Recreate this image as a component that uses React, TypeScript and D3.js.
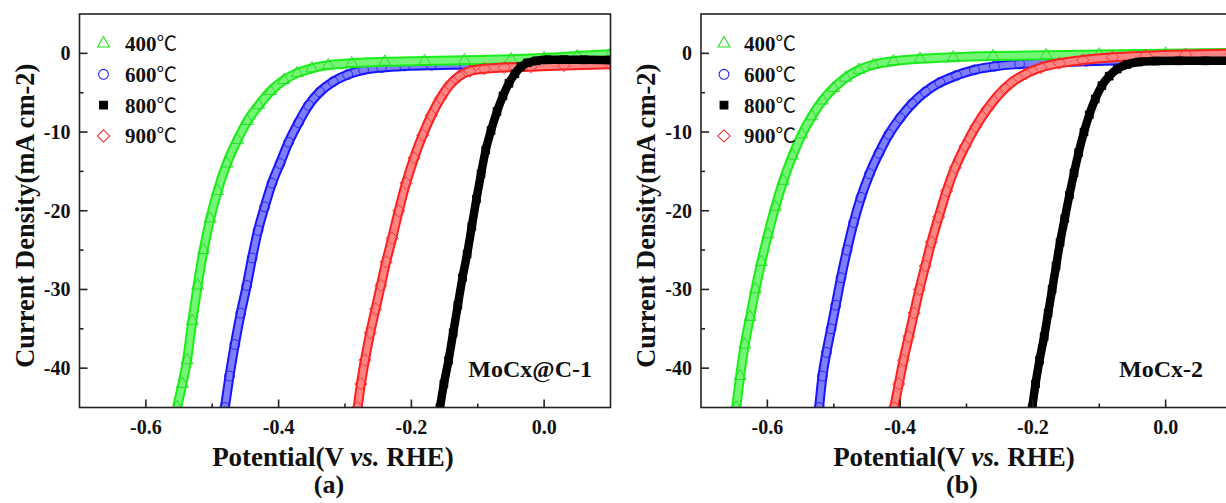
import React from 'react';
import * as d3 from 'd3';

// ---------- data (potential V vs RHE, current density mA cm-2) ----------
const seriesLabels = ['400℃', '600℃', '800℃', '900℃'];
const xTicks = [-0.6, -0.4, -0.2, 0.0];
const xMinorTicks = [-0.5, -0.3, -0.1];
const yTicks = [0, -10, -20, -30, -40];
const yMinorTicks = [-5, -15, -25, -35];
const panelNames = ['MoCx@C-1', 'MoCx-2'];
const panelCaptions = ['(a)', '(b)'];

// panel (a) MoCx@C-1
const a400: [number, number][] = [
  [-0.553, -45], [-0.545, -42], [-0.538, -39], [-0.53, -34], [-0.522, -29.5], [-0.513, -25],
  [-0.503, -21], [-0.492, -17.5], [-0.478, -14], [-0.462, -11], [-0.447, -8.6], [-0.43, -6.6],
  [-0.412, -4.8], [-0.392, -3.4], [-0.372, -2.5], [-0.35, -1.9], [-0.325, -1.5], [-0.29, -1.25],
  [-0.24, -1.08], [-0.18, -0.98], [-0.12, -0.88], [-0.05, -0.75], [0.0, -0.6], [0.05, -0.35], [0.1, -0.1],
];
const a600: [number, number][] = [
  [-0.481, -45], [-0.474, -41], [-0.466, -37], [-0.457, -33], [-0.448, -29.5], [-0.44, -26],
  [-0.431, -22.5], [-0.421, -19.5], [-0.41, -16.5], [-0.398, -14], [-0.385, -11.3], [-0.37, -8.8],
  [-0.355, -6.6], [-0.338, -4.9], [-0.318, -3.6], [-0.296, -2.7], [-0.272, -2.1], [-0.245, -1.8],
  [-0.21, -1.6], [-0.17, -1.5], [-0.12, -1.45], [-0.06, -1.4], [0.0, -1.3], [0.05, -1.2], [0.1, -1.1],
];
const a800: [number, number][] = [
  [-0.157, -45], [-0.151, -42], [-0.144, -39], [-0.137, -35.5], [-0.13, -32], [-0.123, -28.5],
  [-0.116, -25.5], [-0.109, -22], [-0.102, -18.5], [-0.095, -15.3], [-0.088, -12.3], [-0.08, -9.8],
  [-0.071, -7.4], [-0.062, -5.4], [-0.053, -3.8], [-0.044, -2.6], [-0.035, -1.7], [-0.025, -1.2],
  [-0.012, -0.95], [0.005, -0.82], [0.03, -0.8], [0.06, -0.82], [0.1, -0.85],
];
const a900: [number, number][] = [
  [-0.281, -45], [-0.276, -42], [-0.27, -39], [-0.262, -35.5], [-0.254, -32.5], [-0.246, -29.5],
  [-0.238, -26.5], [-0.229, -23.5], [-0.219, -20], [-0.208, -16.5], [-0.196, -13.3], [-0.183, -10.4],
  [-0.17, -7.9], [-0.156, -5.7], [-0.142, -4.0], [-0.128, -2.9], [-0.112, -2.25], [-0.09, -1.95],
  [-0.06, -1.8], [-0.02, -1.7], [0.03, -1.55], [0.1, -1.4],
];

// panel (b) MoCx-2
const b400: [number, number][] = [
  [-0.647, -45], [-0.641, -41], [-0.634, -37], [-0.626, -33.5], [-0.618, -30], [-0.609, -26.5],
  [-0.599, -23], [-0.588, -19.5], [-0.576, -16.2], [-0.562, -13], [-0.548, -10.3], [-0.533, -8],
  [-0.517, -6], [-0.5, -4.4], [-0.482, -3.1], [-0.462, -2.1], [-0.44, -1.45], [-0.41, -1.0],
  [-0.37, -0.7], [-0.32, -0.5], [-0.26, -0.35], [-0.18, -0.25], [-0.1, -0.15], [0.0, -0.05], [0.1, 0.05],
];
const b600: [number, number][] = [
  [-0.522, -45], [-0.517, -41], [-0.511, -38], [-0.504, -35], [-0.497, -32], [-0.489, -28.5],
  [-0.48, -25], [-0.47, -21.5], [-0.459, -18.3], [-0.446, -15.3], [-0.432, -12.7], [-0.417, -10.3],
  [-0.4, -8.2], [-0.382, -6.4], [-0.362, -4.9], [-0.34, -3.7], [-0.315, -2.8], [-0.288, -2.1],
  [-0.258, -1.65], [-0.22, -1.35], [-0.17, -1.15], [-0.12, -1.0], [-0.05, -0.85], [0.02, -0.7], [0.1, -0.6],
];
const b800: [number, number][] = [
  [-0.201, -45], [-0.196, -42], [-0.19, -39], [-0.183, -36], [-0.177, -33], [-0.171, -30],
  [-0.165, -27], [-0.159, -24], [-0.152, -21], [-0.145, -18], [-0.138, -15.2], [-0.131, -12.6],
  [-0.123, -10], [-0.115, -7.8], [-0.106, -5.8], [-0.096, -4.1], [-0.085, -2.9], [-0.073, -2.0],
  [-0.058, -1.4], [-0.04, -1.1], [-0.015, -0.98], [0.02, -0.95], [0.06, -0.95], [0.1, -0.95],
];
const b900: [number, number][] = [
  [-0.409, -45], [-0.402, -42], [-0.395, -39], [-0.387, -36], [-0.379, -33], [-0.371, -30],
  [-0.362, -27], [-0.353, -24], [-0.342, -20.8], [-0.33, -17.5], [-0.317, -14.5], [-0.302, -11.8],
  [-0.286, -9.3], [-0.269, -7.1], [-0.251, -5.2], [-0.232, -3.7], [-0.211, -2.6], [-0.188, -1.8],
  [-0.16, -1.25], [-0.125, -0.85], [-0.08, -0.5], [-0.03, -0.3], [0.03, -0.15], [0.1, -0.05],
];

// ---------- styling / layout ----------
const W = 1226;
const H = 503;
const X_DOMAIN: [number, number] = [-0.7, 0.1];
const Y_DOMAIN: [number, number] = [5, -45];
const PLOT_W = 531;
const PLOT_TOP = 14;
const PLOT_BOTTOM = 407.5;
const SERIF = '"Liberation Serif", "Times New Roman", serif';

type Style = { color: string; band: string; symbol: string; filled: boolean; inner: number };
const styles: Style[] = [
  { color: '#22dd22', band: '#19ee19', symbol: 'triangle', filled: false, inner: 0.4 },
  { color: '#2020ee', band: '#1515ff', symbol: 'circle', filled: false, inner: 0.45 },
  { color: '#000000', band: '#000000', symbol: 'square', filled: true, inner: 0 },
  { color: '#ee3333', band: '#ff1f1f', symbol: 'diamond', filled: false, inner: 0.45 },
];
// draw order: 600, 400, 900, 800 (black on top)
const drawOrder = [1, 0, 3, 2];

const panels = [
  { left: 79.5, series: [a400, a600, a800, a900], annoX: 592, potX: 333, capX: 329, legX: 103.5, legTextX: 125 },
  { left: 701, series: [b400, b600, b800, b900], annoX: 1203, potX: 954, capX: 962, legX: 724, legTextX: 744 },
];

function symbolPath(kind: string): { d: string; rotate: number } {
  if (kind === 'triangle') return { d: d3.symbol(d3.symbolTriangle, 62)() as string, rotate: 0 };
  if (kind === 'circle') return { d: d3.symbol(d3.symbolCircle, 76)() as string, rotate: 0 };
  if (kind === 'square') return { d: d3.symbol(d3.symbolSquare, 60)() as string, rotate: 0 };
  return { d: d3.symbol(d3.symbolSquare, 76)() as string, rotate: 45 };
}

function Marker({ x, y, s, w }: { x: number; y: number; s: Style; w?: number }) {
  const p = symbolPath(s.symbol);
  return (
    <path
      d={p.d}
      transform={`translate(${x},${y}) rotate(${p.rotate})`}
      fill={s.filled ? s.color : 'none'}
      stroke={s.color}
      strokeWidth={w ?? 1.1}
    />
  );
}

function Panel({ idx }: { idx: number }) {
  const p = panels[idx];
  const x = d3.scaleLinear().domain(X_DOMAIN).range([p.left, p.left + PLOT_W]);
  const y = d3.scaleLinear().domain(Y_DOMAIN).range([PLOT_TOP, PLOT_BOTTOM]);
  const line = d3
    .line<[number, number]>()
    .x((d) => x(d[0]))
    .y((d) => y(d[1]))
    .curve(d3.curveMonotoneX);
  const clipId = `clip-${idx}`;
  const left = p.left;
  const legStep = 30.8;
  const legY0 = 43.5;
  return (
    <g>
      <defs>
        <clipPath id={clipId}>
          <rect x={left} y={PLOT_TOP} width={PLOT_W} height={PLOT_BOTTOM - PLOT_TOP} />
        </clipPath>
      </defs>
      <g clipPath={`url(#${clipId})`}>
        {drawOrder.map((si) => {
          const s = styles[si];
          const data = p.series[si];
          const d = line(data) as string;
          return (
            <g key={si}>
              <path d={d} fill="none" stroke={s.band} strokeWidth={si === 2 ? 8.5 : 10} strokeLinejoin="round" />
              {s.inner > 0 && (
                <path d={d} fill="none" stroke="#fff" strokeOpacity={s.inner} strokeWidth={6} strokeLinejoin="round" />
              )}
              {data.map((pt, k) => (
                <Marker key={k} x={x(pt[0])} y={y(pt[1])} s={s} w={0.9} />
              ))}
            </g>
          );
        })}
      </g>
      {/* frame */}
      <rect
        x={left}
        y={PLOT_TOP}
        width={PLOT_W}
        height={PLOT_BOTTOM - PLOT_TOP}
        fill="none"
        stroke="#222"
        strokeWidth={1.6}
      />
      {/* x ticks */}
      {xTicks.map((t) => (
        <g key={`xt${t}`}>
          <line x1={x(t)} x2={x(t)} y1={PLOT_BOTTOM} y2={PLOT_BOTTOM - 8} stroke="#222" strokeWidth={1.6} />
          <text x={x(t)} y={433.5} textAnchor="middle" fontFamily={SERIF} fontWeight="bold" fontSize={20} fill="#111">
            {t.toFixed(1)}
          </text>
        </g>
      ))}
      {xMinorTicks.map((t) => (
        <line key={`xm${t}`} x1={x(t)} x2={x(t)} y1={PLOT_BOTTOM} y2={PLOT_BOTTOM - 4} stroke="#222" strokeWidth={1.6} />
      ))}
      {/* y ticks */}
      {yTicks.map((t) => (
        <g key={`yt${t}`}>
          <line x1={left} x2={left + 8} y1={y(t)} y2={y(t)} stroke="#222" strokeWidth={1.6} />
          <text x={left - 9} y={y(t) + 7} textAnchor="end" fontFamily={SERIF} fontWeight="bold" fontSize={20} fill="#111">
            {String(t)}
          </text>
        </g>
      ))}
      {yMinorTicks.map((t) => (
        <line key={`ym${t}`} x1={left} x2={left + 4} y1={y(t)} y2={y(t)} stroke="#222" strokeWidth={1.6} />
      ))}
      {/* legend */}
      {seriesLabels.map((lab, i) => {
        const cy = legY0 + i * legStep;
        return (
          <g key={lab}>
            <Marker x={p.legX} y={cy} s={styles[i]} w={1.1} />
            <text x={p.legTextX} y={cy + 7.5} fontFamily={SERIF} fontWeight="bold" fontSize={21} fill="#111">
              {lab.slice(0, 3)}
              <tspan fontFamily='"Noto Sans CJK SC", "DejaVu Sans", sans-serif' fontWeight={400} fontSize={20.5}>
                {lab.slice(3)}
              </tspan>
            </text>
          </g>
        );
      })}
      {/* annotation */}
      <text x={p.annoX} y={377} textAnchor="end" fontFamily={SERIF} fontWeight="bold" fontSize={24} fill="#111">
        {panelNames[idx]}
      </text>
      {/* axis titles */}
      <text x={p.potX} y={466} textAnchor="middle" fontFamily={SERIF} fontWeight="bold" fontSize={27} fill="#111">
        Potential(V <tspan fontStyle="italic">vs.</tspan> RHE)
      </text>
      <text x={p.capX} y={493} textAnchor="middle" fontFamily={SERIF} fontWeight="bold" fontSize={26} fill="#111">
        {panelCaptions[idx]}
      </text>
      <text
        transform={`translate(${left - 46},${(PLOT_TOP + PLOT_BOTTOM) / 2 + 5}) rotate(-90)`}
        textAnchor="middle"
        fontFamily={SERIF}
        fontWeight="bold"
        fontSize={26.5}
        fill="#111"
      >
        Current Density(mA cm-2)
      </text>
    </g>
  );
}

export default function App() {
  return (
    <svg
      width={W}
      height={H}
      viewBox={`0 0 ${W} ${H}`}
      style={{ position: 'absolute', left: 0, top: 0, display: 'block', background: '#fff' }}
    >
      <rect x={0} y={0} width={W} height={H} fill="#fff" />
      <Panel idx={0} />
      <Panel idx={1} />
    </svg>
  );
}
